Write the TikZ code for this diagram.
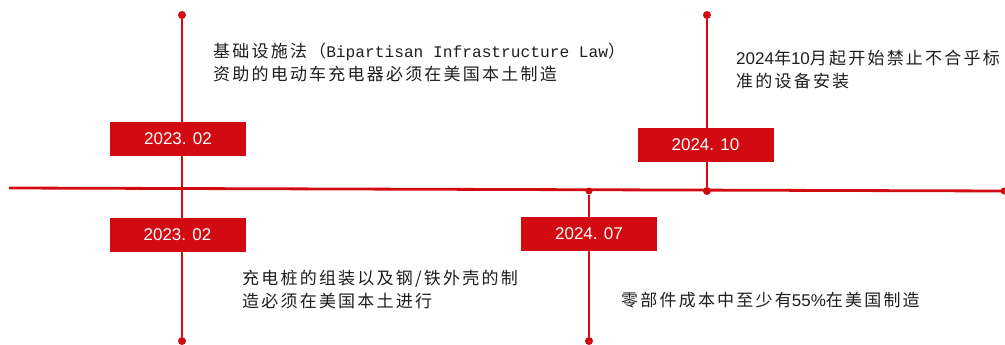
\documentclass[tikz,border=0pt]{standalone}
\usepackage{fontspec}
\setmainfont{Liberation Sans}
\newfontfamily\cjk[LetterSpace=13]{Noto Sans CJK SC}
\newfontfamily\mono{Liberation Mono}
\definecolor{tred}{HTML}{D20A11}
\definecolor{txt}{HTML}{1E1E1E}
\begin{document}
\begin{tikzpicture}[x=1pt,y=-1pt,
  tline/.style={draw=tred,line width=2.8pt},
  dotmark/.style={circle,fill=tred,inner sep=0pt,minimum size=8pt},
  datebox/.style={rectangle,fill=tred,text=white,minimum width=136pt,minimum height=34pt,inner sep=0pt,font=\fontsize{17pt}{20pt}\selectfont},
  desc/.style={anchor=base west,inner sep=0pt,text=txt,font=\fontsize{17pt}{20pt}\selectfont}]
\useasboundingbox (0,0) rectangle (1005,345);
% main axis
\coordinate (axL) at (9,188);
\coordinate (axR) at (1005,191);
\draw[tline] (axL) -- (axR);
\node[dotmark,minimum size=7pt] (axEnd) at (1004,191) {};
% vertical 1
\node[dotmark] (v1top) at (182,15) {};
\node[dotmark] (v1bot) at (182,341) {};
\draw[tline] (v1top) -- (v1bot);
% vertical 2
\node[dotmark,minimum size=7pt] (v2top) at (589,191) {};
\node[dotmark] (v2bot) at (589,341) {};
\draw[tline] (v2top) -- (v2bot);
% vertical 3
\node[dotmark] (v3top) at (707,15) {};
\node[dotmark] (v3bot) at (707,191) {};
\draw[tline] (v3top) -- (v3bot);
% date boxes
\node[datebox] (d1) at (178,139) {2023. 02};
\node[datebox] (d2) at (177.5,234.5) {2023. 02};
\node[datebox] (d3) at (589,233.5) {2024. 07};
\node[datebox] (d4) at (705.5,145) {2024. 10};
% descriptions
\node[desc] (t1a) at (213,58) {{\cjk 基础设施法（}{\mono\fontsize{16.2pt}{20pt}\selectfont Bipartisan Infrastructure Law}{\cjk ）}};
\node[desc] (t1b) at (213,81) {{\cjk 资助的电动车充电器必须在美国本土制造}};
\node[desc] (t3a) at (736,64.5) {2024{\cjk 年}10{\cjk 月起开始禁止不合乎标}};
\node[desc] (t3b) at (736,87.5) {{\cjk 准的设备安装}};
\node[desc] (t2a) at (242,284.5) {{\cjk 充电桩的组装以及钢/铁外壳的制}};
\node[desc] (t2b) at (242,307.5) {{\cjk 造必须在美国本土进行}};
\node[desc] (t4a) at (621,306.5) {{\cjk 零部件成本中至少有}55\%{\cjk 在美国制造}};
\end{tikzpicture}
\end{document}
